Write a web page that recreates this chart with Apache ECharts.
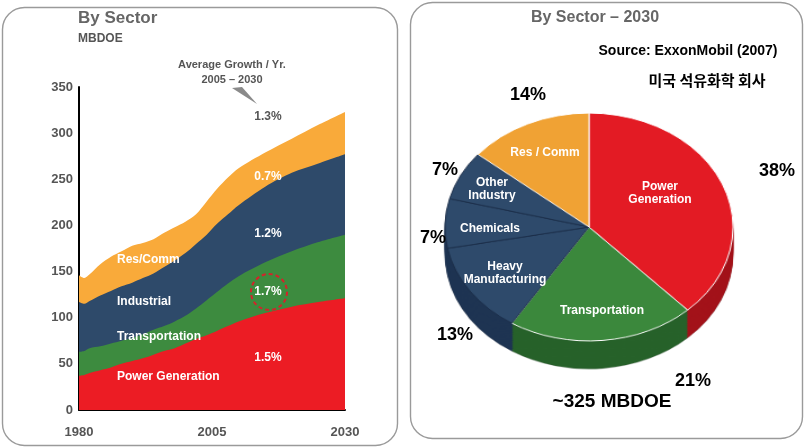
<!DOCTYPE html>
<html><head><meta charset="utf-8">
<script src="https://cdn.jsdelivr.net/npm/echarts@6/dist/echarts.min.js"></script>
<style>
html,body{margin:0;padding:0;background:#fff;}
#wrap{position:relative;width:810px;height:448px;overflow:hidden;background:#fff;}
#pie{position:absolute;left:0;top:0;width:810px;height:448px;transform-origin:589px 227px;transform:scale(1.125,0.89);}
#main{position:absolute;left:0;top:0;width:810px;height:448px;}
</style></head><body>
<div id="wrap"><div id="pie"></div><div id="main"></div></div>
<script>
// ---- Left chart data (MBDOE, by sector) ----
const years = [1980,1981,1982,1984,1986,1988,1990,1992,1994,1996,1998,2000,2002,2004,2006,2008,2010,2015,2020,2025,2030];
const powerGeneration = [37,38,40,43,46,50,53,56,60,64,67,72,77,81,86,91,96,105,112,117,121];
const transportation  = [26,26,27,26,26,25,25,26,27,27,29,30,33,38,42,46,49,55,60,65,69];
const industrial      = [54,51,51,55,57,59,60,61,61,64,66,68,70,71,74,75,77,82,85,85,87];
const resComm         = [29,28,29,34,37,38,40,38,37,37,36,34,32,36,38,40,40,37,37,42,46];
const areaNames  = ['Power Generation','Transportation','Industrial','Res/Comm'];
const areaColors = ['#EC1C24','#3D8B3F','#2E4A6A','#F9AA3A'];
const yMin = 0, yMax = 350, yStep = 50;
const xTicks = [1980, 2005, 2030];
const growthRates = ['1.3%','0.7%','1.2%','1.7%','1.5%'];

// ---- Right chart data (2030 shares, %) ----
const pieCategories = ['Power Generation','Transportation','Heavy Manufacturing','Chemicals','Other Industry','Res / Comm'];
const pieShares = [38,21,13,7,7,14];
const pieColors = ['#E31B24','#3B883C','#2E4A6B','#2E4A6B','#2E4A6B','#F0A234'];
const pieSideColors = ['#A3121A','#27622A','#1E3453','#1E3453','#1E3453','#B87A22'];
const totalLabel = '~325 MBDOE';

// ---------- PIE (own instance, stretched into an ellipse) ----------
const pieChart = echarts.init(document.getElementById('pie'), null, {renderer:'canvas'});
const cx = 589, cy = 227, R = 128, sy = 0.89, depth = 28;
const pieSeries = [];
for (let d = depth; d >= 2; d -= 2) {
  pieSeries.push({
    type:'pie', center:[cx, cy + d/sy], radius:R, startAngle:90, clockwise:true,
    silent:true, animation:false, label:{show:false}, labelLine:{show:false},
    data: pieCategories.map((n,i)=>({name:n, value:pieShares[i],
      itemStyle:{color:pieSideColors[i], borderColor: d===depth? 'rgba(0,0,0,0.25)':pieSideColors[i], borderWidth:0.6}}))
  });
}
pieSeries.push({
  type:'pie', center:[cx, cy], radius:R, startAngle:90, clockwise:true,
  silent:true, animation:false, label:{show:false}, labelLine:{show:false},
  data: pieCategories.map((n,i)=>({name:n, value:pieShares[i],
    itemStyle:{color:pieColors[i], borderColor: (i>=2 && i<=4)? '#1B2D47' : '#ffffff', borderWidth: (i>=2&&i<=4)?0.9:1}}))
});
pieChart.setOption({animation:false, series:pieSeries});

// ---------- MAIN (left area chart + all text) ----------
const chart = echarts.init(document.getElementById('main'), null, {renderer:'canvas'});
const layers = [powerGeneration, transportation, industrial, resComm];
// cumulative tops of each layer (stacked), computed from the sector values
const cumulative = [];
layers.forEach((arr, i) => {
  cumulative.push(arr.map((v, j) => v + (i > 0 ? cumulative[i-1][j] : 0)));
});
const FONT = '"Liberation Sans", Arial, sans-serif';

function txt(x, y, t, size, color, align, fontFamily) {
  return {type:'text', z:100, style:{x:x, y:y, text:t, fill:color,
    font:'bold ' + size + 'px ' + (fontFamily || FONT), textAlign:align||'left', textVerticalAlign:'middle'}};
}

const pieLabelPos = [[777,171],[693,381],[455,335],[433,238],[445,170],[528,95]];

const graphics = [
  {type:'rect', z:1, shape:{x:2.5,y:7.5,width:395,height:438,r:22}, style:{fill:'none', stroke:'#9a9a9a', lineWidth:1.4}},
  {type:'rect', z:1, shape:{x:410.5,y:2.5,width:392,height:436,r:22}, style:{fill:'none', stroke:'#9a9a9a', lineWidth:1.4}},
  txt(78, 18, 'By Sector', 17, '#666'),
  txt(78, 39, 'MBDOE', 12, '#555'),
  txt(232, 65, 'Average Growth / Yr.', 11, '#555', 'center'),
  txt(232, 80, '2005 \u2013 2030', 11, '#555', 'center'),
  {type:'polygon', z:100, shape:{points:[[232,88],[242,87],[257,104]]}, style:{fill:'#8a8a8a'}},
  txt(268, 117, growthRates[0], 12, '#555', 'center'),
  txt(268, 177, growthRates[1], 12, '#fff', 'center'),
  txt(268, 234, growthRates[2], 12, '#fff', 'center'),
  txt(268, 292, growthRates[3], 12, '#fff', 'center'),
  txt(268, 358, growthRates[4], 12, '#fff', 'center'),
  {type:'circle', z:100, shape:{cx:269, cy:292, r:18}, style:{fill:'none', stroke:'#D4232A', lineWidth:2, lineDash:[4,3]}},
  txt(117, 260, areaNames[3], 12, '#fff'),
  txt(117, 302, areaNames[2], 12, '#fff'),
  txt(117, 337, areaNames[1], 12, '#fff'),
  txt(117, 377, areaNames[0], 12, '#fff'),
  // right panel
  txt(595, 18, 'By Sector \u2013 2030', 16, '#666', 'center'),
  txt(688, 51, 'Source: ExxonMobil (2007)', 14, '#000', 'center'),
  txt(707, 80, '\uBBF8\uAD6D \uC11D\uC720\uD654\uD559 \uD68C\uC0AC', 15, '#000', 'center', '"Noto Sans CJK KR", sans-serif'),
  txt(545, 153, 'Res / Comm', 12, '#fff', 'center'),
  txt(660, 187, 'Power', 12, '#fff', 'center'),
  txt(660, 200, 'Generation', 12, '#fff', 'center'),
  txt(492, 183, 'Other', 12, '#fff', 'center'),
  txt(492, 196, 'Industry', 12, '#fff', 'center'),
  txt(490, 229, 'Chemicals', 12, '#fff', 'center'),
  txt(505, 267, 'Heavy', 12, '#fff', 'center'),
  txt(505, 280, 'Manufacturing', 12, '#fff', 'center'),
  txt(602, 311, 'Transportation', 12, '#fff', 'center'),
  txt(612, 402, totalLabel, 19, '#000', 'center')
];
pieShares.forEach((v,i)=>{
  graphics.push(txt(pieLabelPos[i][0], pieLabelPos[i][1], v + '%', 18, '#000', 'center'));
});

// draw from the top layer down so lower layers overlay the larger cumulative areas
const areaSeries = [];
for (let i = layers.length - 1; i >= 0; i--) {
  areaSeries.push({
    type:'line', name:areaNames[i], smooth:0.3, symbol:'none', showSymbol:false,
    lineStyle:{width:0}, areaStyle:{color:areaColors[i], opacity:1, origin:'start'}, z:2 + (layers.length - i),
    data: years.map((y,j)=>[y, cumulative[i][j]])
  });
}

chart.setOption({
  animation:false,
  backgroundColor:'transparent',
  grid:{left:79, top:87, width:266, height:323},
  xAxis:{type:'value', min:xTicks[0], max:xTicks[xTicks.length-1], interval:xTicks[1]-xTicks[0],
    axisLine:{show:true, onZero:false, lineStyle:{color:'#000', width:2}},
    axisTick:{show:false}, splitLine:{show:false},
    axisLabel:{formatter:v=>String(v), color:'#555', fontWeight:'bold', fontSize:13, fontFamily:FONT, margin:16}},
  yAxis:{type:'value', min:yMin, max:yMax, interval:yStep,
    axisLine:{show:true, lineStyle:{color:'#000', width:2}},
    axisTick:{show:false}, splitLine:{show:false},
    axisLabel:{color:'#555', fontWeight:'bold', fontSize:13, fontFamily:FONT, margin:6}},
  series: areaSeries,
  graphic: graphics
});
</script>
</body></html>
